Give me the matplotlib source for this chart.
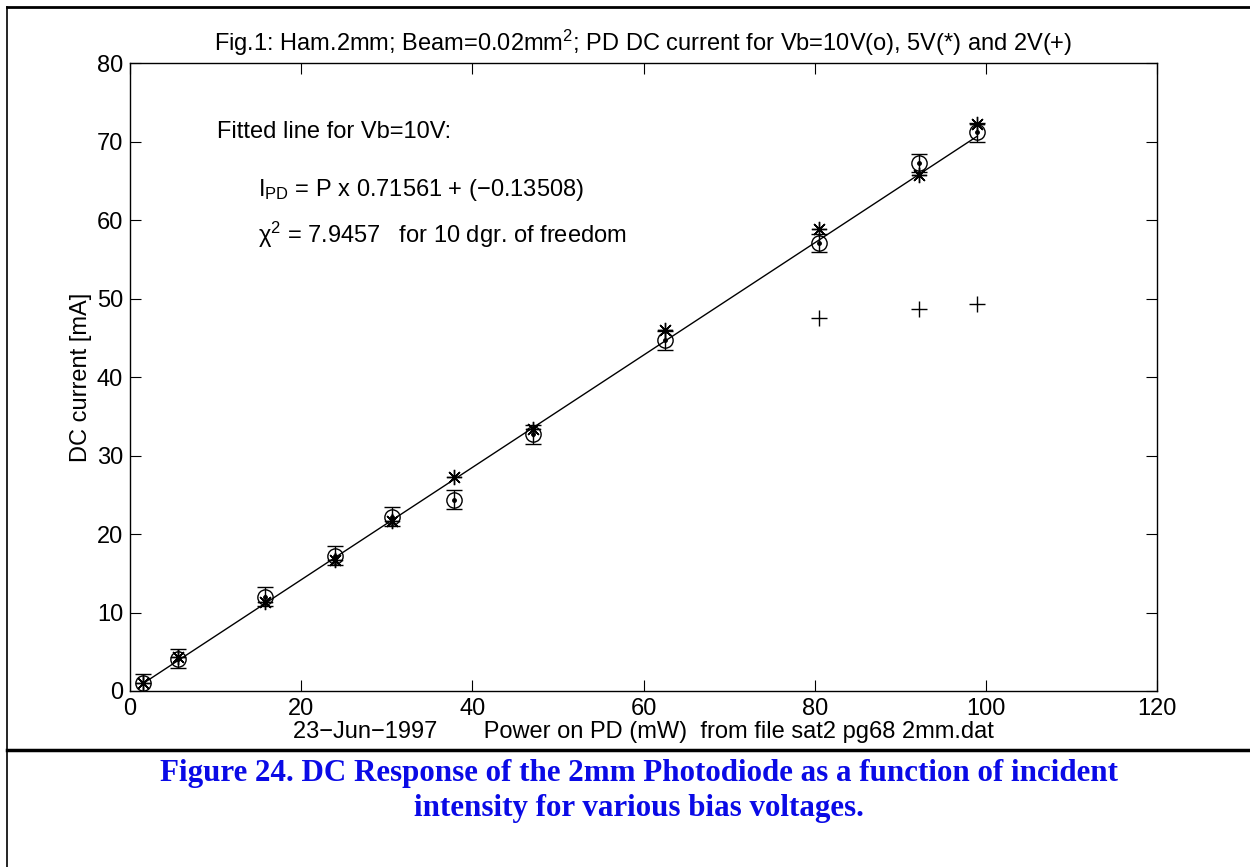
import numpy as np
import matplotlib
matplotlib.use("Agg")
import matplotlib.pyplot as plt
from matplotlib.lines import Line2D

# -----------------------------------
# DATA
# -----------------------------------

power_mw = [1.5, 5.6, 15.75, 23.9, 30.6, 37.8, 47.1, 62.5, 80.5, 92.2, 99.0]

current_10v = [1.0, 4.1, 12.0, 17.25, 22.2, 24.4, 32.7, 44.7, 57.1, 67.3, 71.2]
error_10v = [1.2] * len(power_mw)

current_5v = [1.0, 4.3, 11.3, 16.7, 21.7, 27.3, 33.4, 46.0, 58.9, 65.7, 72.2]

power_2v = [80.5, 92.2, 99.0]
current_2v = [47.6, 48.7, 49.3]

fit_slope = 0.71561
fit_offset = -0.13508
chi2 = 7.9457
dof = 10

x_ticks = [0, 20, 40, 60, 80, 100, 120]
y_ticks = [0, 10, 20, 30, 40, 50, 60, 70, 80]

# -----------------------------------
# STYLE
# -----------------------------------

plt.rcParams["font.family"] = ["Liberation Sans", "DejaVu Sans"]
plt.rcParams["mathtext.fontset"] = "custom"
plt.rcParams["mathtext.rm"] = "Liberation Sans"
plt.rcParams["mathtext.it"] = "Liberation Sans:italic"
plt.rcParams["mathtext.bf"] = "Liberation Sans:bold"

fs = 17

fig = plt.figure(figsize=(12.5, 8.67), dpi=100)
ax = fig.add_axes([0.104, 0.203, 0.8216, 0.724])

# -----------------------------------
# DATA MARKS
# -----------------------------------

ax.errorbar(
    power_mw,
    current_10v,
    yerr=error_10v,
    fmt="o",
    color="black",
    mfc="none",
    markersize=11,
    elinewidth=1,
    capsize=6,
    capthick=1
)

ax.plot(power_mw, current_10v, ".", color="black", markersize=5)

ax.plot(
    power_mw,
    current_5v,
    linestyle="none",
    marker=(8, 2, 0),
    color="black",
    markersize=11,
    markeredgewidth=1
)

ax.plot(
    power_2v,
    current_2v,
    linestyle="none",
    marker="+",
    color="black",
    markersize=12,
    markeredgewidth=1
)

# fitted line
x_fit = np.array([min(power_mw), max(power_mw)])
ax.plot(x_fit, fit_slope * x_fit + fit_offset, color="black", linewidth=1)

# -----------------------------------
# AXES
# -----------------------------------

ax.set_xlim(0, 120)
ax.set_ylim(0, 80)
ax.set_xticks(x_ticks)
ax.set_yticks(y_ticks)
ax.tick_params(
    direction="in",
    top=True,
    right=True,
    length=8,
    width=0.8,
    labelsize=fs,
    pad=5
)
for spine in ax.spines.values():
    spine.set_linewidth(1)

ax.set_title(
    "Fig.1: Ham.2mm; Beam=0.02mm$^2$; PD DC current for Vb=10V(o), 5V(*) and 2V(+)",
    fontsize=fs,
    pad=9
)

ax.set_xlabel(
    "23\u2212Jun\u22121997       Power on PD (mW)  from file sat2 pg68 2mm.dat",
    fontsize=fs,
    labelpad=1
)

ax.set_ylabel("DC current [mA]", fontsize=fs)
ax.yaxis.set_label_coords(-0.037, 0.5)

# -----------------------------------
# ANNOTATIONS
# -----------------------------------

ax.text(10.15, 71.2, "Fitted line for Vb=10V:", fontsize=fs, va="center")

ax.text(
    14.9,
    63.9,
    "I$_{\\rm PD}$ = P x %.5f + (\u2212%.5f)" % (fit_slope, -fit_offset),
    fontsize=fs,
    va="center"
)

ax.text(
    14.9,
    58.1,
    "\u03c7$^2$ = %.4f   for %d dgr. of freedom" % (chi2, dof),
    fontsize=fs,
    va="center"
)

# -----------------------------------
# PAGE FRAME + CAPTION
# -----------------------------------

x0 = 7 / 1250
y_top = 1 - 7 / 867
y_sep = 1 - 750 / 867

fig.add_artist(Line2D([x0, 1], [y_top, y_top], color="black", linewidth=2))
fig.add_artist(Line2D([x0, x0], [0, y_top], color="black", linewidth=1.2))
fig.add_artist(Line2D([x0, 1], [y_sep, y_sep], color="black", linewidth=2.5))

fig.text(
    0.511,
    1 - 791 / 867,
    "Figure 24. DC Response of the 2mm Photodiode as a function of incident\n"
    "intensity for various bias voltages.",
    ha="center",
    va="center",
    fontsize=22.3,
    fontweight="bold",
    family="Liberation Serif",
    color="#0a0ae6",
    linespacing=1.3
)

fig.savefig("out.png", dpi=100)
